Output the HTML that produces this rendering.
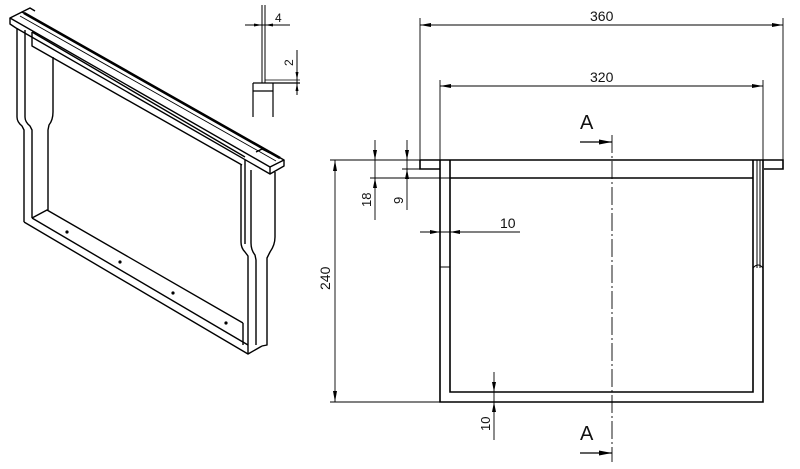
<!DOCTYPE html>
<html><head><meta charset="utf-8"><style>
html,body{margin:0;padding:0;background:#fff;}
svg{display:block;}
text{font-family:"Liberation Sans",sans-serif;fill:#111;}
</style></head><body>
<svg width="800" height="469" viewBox="0 0 800 469" xmlns="http://www.w3.org/2000/svg">
<g fill="none" stroke="#000" stroke-width="1.4" stroke-linejoin="round">
<!-- ISO VIEW -->
<path d="M10,18 L22,12 L284,160 L270,167 Z"/>
<path d="M10,18 L10,24 L16,28 L270,174 L284,166 L284,160"/>
<path d="M270,167 L270,174"/>
<line x1="24" y1="13" x2="280" y2="158" stroke-width="2.6"/>
<line x1="20" y1="16" x2="276" y2="161" stroke-width="0.9"/>
<path d="M22,12 L30,8 L35,11"/>
<path d="M256,152 L262,149 L270,153"/>
<path d="M32,32 L245,157"/>
<path d="M32,32 L32,46 L242,165"/>
<path d="M17,28 L17,117 Q17,122 22,126 L24,130 L24,222"/>
<path d="M25,30 L25,117 Q25,122 30,126 L32,130 L32,218"/>
<path d="M53,57 L53,112 Q53,120 49,125 L48,130 L48,210"/>
<path d="M24,222 L248,354 L262,346"/>
<path d="M32,218 L248,345"/>
<path d="M32,218 L47,210 L243,323"/>
<path d="M248,345 L248,354"/>
<path d="M241,165 L241,242 Q241,248 245,252 L248,256 L248,345"/>
<path d="M245,160 L245,244"/>
<path d="M251,170 L251,243 Q251,250 255,255 L256,260 L256,345"/>
<path d="M275,172 L275,237 Q275,245 270,252 L267,258 L267,345 L262,346"/>
<path d="M243,323 L243,345"/>
</g>
<g fill="#000">
<circle cx="67" cy="232" r="1.6"/><circle cx="120" cy="262" r="1.6"/>
<circle cx="173" cy="293" r="1.6"/><circle cx="226" cy="323" r="1.6"/>
</g>
<!-- detail -->
<g fill="none" stroke="#000" stroke-width="1">
<line x1="262" y1="5" x2="262" y2="83"/><line x1="265" y1="5" x2="265" y2="83"/>
<line x1="253" y1="83" x2="300" y2="83" stroke-width="1.2"/>
<line x1="253" y1="83" x2="253" y2="117" stroke-width="1.2"/>
<line x1="273" y1="83" x2="273" y2="117" stroke-width="1.2"/>
<line x1="253" y1="91" x2="273" y2="91" stroke-width="1.2"/>
<line x1="265" y1="80" x2="300" y2="80" stroke-width="0.8"/>
<line x1="245" y1="25" x2="290" y2="25"/>
<line x1="297" y1="50" x2="297" y2="95"/>
</g>
<g fill="#000">
<polygon points="262,25 254,23.5 254,26.5"/><polygon points="265,25 273,23.5 273,26.5"/>
<polygon points="297,80 295.5,72 298.5,72"/><polygon points="297,83 295.5,91 298.5,91"/>
</g>
<text x="275" y="22" font-size="12">4</text>
<text font-size="12" transform="translate(293,66) rotate(-90)">2</text>

<!-- FRONT VIEW -->
<g fill="none" stroke="#000" stroke-width="1.6">
<path d="M420,160 L783,160 L783,169 L764,169"/>
<path d="M420,160 L420,169 L440,169"/>
<path d="M440,160 L440,402 L763,402 L763,160"/>
<path d="M450,160 L450,392 L753,392 L753,160"/>
<line x1="450" y1="178" x2="753" y2="178"/>
<line x1="757" y1="160" x2="757" y2="268" stroke-width="1"/>
<line x1="760" y1="160" x2="760" y2="268" stroke-width="1"/>
<path d="M753,268 Q758,262 763,268" stroke-width="1"/>
<line x1="440" y1="267" x2="450" y2="267" stroke-width="1"/>
</g>
<line x1="612" y1="135" x2="612" y2="462" stroke="#000" stroke-width="0.9" stroke-dasharray="18,3,2,3"/>
<g fill="none" stroke="#000" stroke-width="0.9">
<line x1="420" y1="18" x2="420" y2="160"/>
<line x1="783" y1="18" x2="783" y2="160"/>
<line x1="420" y1="25" x2="783" y2="25"/>
<line x1="440" y1="80" x2="440" y2="160"/>
<line x1="763" y1="80" x2="763" y2="160"/>
<line x1="440" y1="86" x2="763" y2="86"/>
<line x1="330" y1="160" x2="420" y2="160"/>
<line x1="330" y1="402" x2="440" y2="402"/>
<line x1="335" y1="160" x2="335" y2="402"/>
<line x1="370" y1="178" x2="450" y2="178"/>
<line x1="375" y1="140" x2="375" y2="220"/>
<line x1="402" y1="169" x2="420" y2="169"/>
<line x1="407" y1="140" x2="407" y2="210"/>
<line x1="420" y1="232" x2="520" y2="232"/>
<line x1="494" y1="372" x2="494" y2="440"/>
<line x1="580" y1="142" x2="612" y2="142" stroke-width="1.2"/>
<line x1="580" y1="453" x2="612" y2="453" stroke-width="1.2"/>
</g>
<g fill="#000">
<polygon points="420,25 431,23 431,27"/><polygon points="783,25 772,23 772,27"/>
<polygon points="440,86 451,84 451,88"/><polygon points="763,86 752,84 752,88"/>
<polygon points="335,160 333,171 337,171"/><polygon points="335,402 333,391 337,391"/>
<polygon points="375,160 373,150 377,150"/><polygon points="375,178 373,188 377,188"/>
<polygon points="407,160 405,150 409,150"/><polygon points="407,169 405,179 409,179"/>
<polygon points="440,232 430,230 430,234"/><polygon points="450,232 460,230 460,234"/>
<polygon points="494,392 492,382 496,382"/><polygon points="494,402 492,412 496,412"/>
<polygon points="612,142 599,139.5 599,144.5"/><polygon points="612,453 599,450.5 599,455.5"/>
</g>
<text x="590" y="21" font-size="14">360</text>
<text x="590" y="82" font-size="14">320</text>
<text x="500" y="228" font-size="14">10</text>
<text font-size="14" transform="translate(330,290) rotate(-90)">240</text>
<text font-size="13" transform="translate(371,207) rotate(-90)">18</text>
<text font-size="13" transform="translate(403,204) rotate(-90)">9</text>
<text font-size="13" transform="translate(490,431) rotate(-90)">10</text>
<text x="580" y="129" font-size="20">A</text>
<text x="580" y="440" font-size="20">A</text>
</svg>
</body></html>
